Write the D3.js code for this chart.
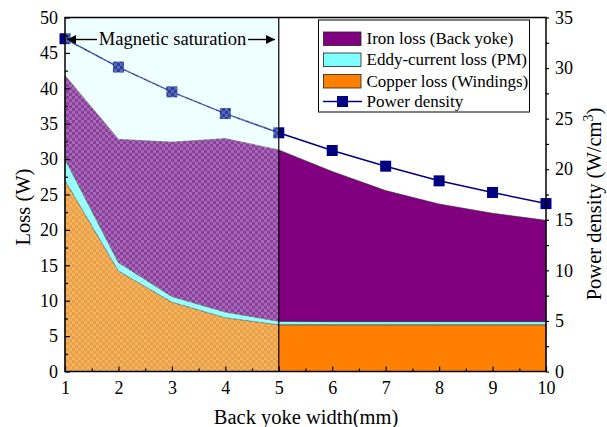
<!DOCTYPE html>
<html>
<head>
<meta charset="utf-8">
<script src="https://cdn.jsdelivr.net/npm/d3@7"></script>
<style>
  html, body { margin: 0; padding: 0; background: #fff; }
  svg, svg text { font-family: "Liberation Serif", "DejaVu Serif", "Times New Roman", serif; }
  svg { display: block; }
</style>
</head>
<body>
<svg id="chart" width="607" height="427"></svg>
<script>
// Back yoke width (mm)
const widths = [1, 2, 3, 4, 5, 6, 7, 8, 9, 10];
// Loss components (W), stacked bottom to top
const copperLoss = [27.0, 14.2, 9.8, 7.6, 6.6, 6.6, 6.6, 6.6, 6.6, 6.6];
const eddyLoss   = [3.0, 1.2, 0.8, 0.8, 0.5, 0.45, 0.45, 0.45, 0.45, 0.45];
const ironLoss   = [11.8, 17.4, 21.8, 24.5, 24.2, 21.2, 18.5, 16.6, 15.3, 14.3];
// Power density (W/cm^3), right axis
const powerDensity = [32.9, 30.1, 27.65, 25.5, 23.6, 21.85, 20.3, 18.85, 17.7, 16.6];

const lossTicks = [0, 5, 10, 15, 20, 25, 30, 35, 40, 45, 50];
const densityTicks = [0, 5, 10, 15, 20, 25, 30, 35];
const saturationEnd = 5;

const seriesNames = ["Copper loss (Windings)", "Eddy-current loss (PM)", "Iron loss (Back yoke)"];
const seriesColors = ["#ff8000", "#80ffff", "#800080"];

const serif = "'Liberation Serif', 'DejaVu Serif', 'Times New Roman', serif";

const svg = d3.select("#chart");
const pLeft = 65, pRight = 546, pTop = 17.5, pBottom = 371.5;

const x = d3.scaleLinear().domain([1, 10]).range([pLeft, pRight]);
const yL = d3.scaleLinear().domain([0, 50]).range([pBottom, pTop]);
const yR = d3.scaleLinear().domain([0, 35]).range([pBottom, pTop]);

// Stack the loss components
const rows = widths.map((w, i) => ({ w, c: copperLoss[i], e: eddyLoss[i], f: ironLoss[i] }));
const stack = d3.stack().keys(["c", "e", "f"])(rows);

const area = d3.area()
  .x(d => x(d.data.w))
  .y0(d => yL(d[0]))
  .y1(d => yL(d[1]));

// Dithered cyan tint for the saturation region
const defs = svg.append("defs");
const dither = defs.append("pattern")
  .attr("id", "dither").attr("width", 6).attr("height", 6)
  .attr("patternUnits", "userSpaceOnUse");
const tint = "rgb(205,255,255)";
[[0, 0, 0.24], [3, 0, 0.42], [0, 3, 0.42], [3, 3, 0.24]].forEach(([cx, cy, a]) => {
  dither.append("rect").attr("x", cx).attr("y", cy).attr("width", 3).attr("height", 3)
    .attr("fill", tint).attr("fill-opacity", a);
});

// Stacked areas
svg.append("g").selectAll("path")
  .data(stack)
  .join("path")
  .attr("d", area)
  .attr("fill", (d, i) => seriesColors[i])
  .attr("stroke", "#333")
  .attr("stroke-width", 0.6);

// Power density line and markers
const line = d3.line().x((d, i) => x(widths[i])).y(d => yR(d));
svg.append("path")
  .datum(powerDensity)
  .attr("d", line)
  .attr("fill", "none")
  .attr("stroke", "#000080")
  .attr("stroke-width", 1.5);

const ms = 11;
svg.append("g").selectAll("rect")
  .data(powerDensity)
  .join("rect")
  .attr("x", (d, i) => x(widths[i]) - ms / 2)
  .attr("y", d => yR(d) - ms / 2)
  .attr("width", ms).attr("height", ms)
  .attr("fill", "#000080");

// Magnetic saturation shading
svg.append("rect")
  .attr("x", x(1)).attr("y", pTop)
  .attr("width", x(saturationEnd) - x(1))
  .attr("height", pBottom - pTop)
  .attr("fill", "url(#dither)");
svg.append("line")
  .attr("x1", x(saturationEnd)).attr("x2", x(saturationEnd))
  .attr("y1", pTop).attr("y2", pBottom)
  .attr("stroke", "#000").attr("stroke-width", 1.2);

// Frame
svg.append("rect")
  .attr("x", pLeft).attr("y", pTop)
  .attr("width", pRight - pLeft).attr("height", pBottom - pTop)
  .attr("fill", "none").attr("stroke", "#000").attr("stroke-width", 1.5);

// Axes
const fontSize = 18;
const gx = svg.append("g").attr("transform", `translate(0,${pBottom})`);
gx.call(d3.axisBottom(x).tickValues(widths).tickSize(-5).tickPadding(10).tickFormat(d3.format("d")));
gx.append("g").call(d3.axisBottom(x).tickValues(d3.range(1.5, 10, 1)).tickSize(-3).tickFormat(""));

const gl = svg.append("g").attr("transform", `translate(${pLeft},0)`);
gl.call(d3.axisLeft(yL).tickValues(lossTicks).tickSize(-5).tickPadding(7).tickFormat(d3.format("d")));
gl.append("g").call(d3.axisLeft(yL).tickValues(d3.range(2.5, 50, 5)).tickSize(-3).tickFormat(""));

const gr = svg.append("g").attr("transform", `translate(${pRight},0)`);
gr.call(d3.axisRight(yR).tickValues(densityTicks).tickSize(3).tickPadding(6).tickFormat(d3.format("d")));
gr.append("g").call(d3.axisRight(yR).tickValues(d3.range(2.5, 35, 5)).tickSize(3).tickFormat(""));

svg.selectAll(".domain").remove();
svg.selectAll(".tick line").attr("stroke", "#000").attr("stroke-width", 1.2);
svg.selectAll(".tick text")
  .attr("font-family", serif)
  .attr("font-size", fontSize)
  .attr("fill", "#000");

// Axis titles
const titleSize = 20.5;
svg.append("text")
  .attr("x", 306).attr("y", 424)
  .attr("text-anchor", "middle").attr("font-size", titleSize).attr("font-family", serif)
  .text("Back yoke width(mm)");

svg.append("text")
  .attr("transform", "translate(30,207) rotate(-90)")
  .attr("text-anchor", "middle").attr("font-size", titleSize).attr("font-family", serif)
  .text("Loss (W)");

const rt = svg.append("text")
  .attr("transform", "translate(601,204) rotate(-90)")
  .attr("text-anchor", "middle").attr("font-size", titleSize).attr("font-family", serif);
rt.append("tspan").text("Power density (W/cm");
rt.append("tspan").attr("dy", -8).attr("font-size", 14).text("3");
rt.append("tspan").attr("dy", 8).text(")");

// Saturation annotation with arrows
const annY = 39.5;
defs.append("marker")
  .attr("id", "arrowhead").attr("viewBox", "0 0 10 10")
  .attr("refX", 10).attr("refY", 5)
  .attr("markerWidth", 11).attr("markerHeight", 9)
  .attr("markerUnits", "userSpaceOnUse")
  .attr("orient", "auto")
  .append("path").attr("d", "M0,0 L10,5 L0,10 Z").attr("fill", "#000");

svg.append("line")
  .attr("x1", 97).attr("x2", 67).attr("y1", annY).attr("y2", annY)
  .attr("stroke", "#000").attr("stroke-width", 1.4)
  .attr("marker-end", "url(#arrowhead)");
svg.append("line")
  .attr("x1", 248).attr("x2", 275).attr("y1", annY).attr("y2", annY)
  .attr("stroke", "#000").attr("stroke-width", 1.4)
  .attr("marker-end", "url(#arrowhead)");
svg.append("text")
  .attr("x", 172.5).attr("y", 45)
  .attr("text-anchor", "middle").attr("font-size", 18.5).attr("font-family", serif)
  .text("Magnetic saturation");

// Legend
const lg = svg.append("g");
lg.append("rect")
  .attr("x", 318.5).attr("y", 20).attr("width", 211).attr("height", 92)
  .attr("fill", "#fff").attr("stroke", "#000").attr("stroke-width", 1);

const legendItems = [
  { name: seriesNames[2], color: seriesColors[2] },
  { name: seriesNames[1], color: seriesColors[1] },
  { name: seriesNames[0], color: seriesColors[0] }
];
const rowY = [38.5, 59.5, 81];
legendItems.forEach((it, i) => {
  lg.append("rect")
    .attr("x", 323.5).attr("y", rowY[i] - 6.5).attr("width", 37.5).attr("height", 13.5)
    .attr("fill", it.color).attr("stroke", "#222").attr("stroke-width", 0.8);
  lg.append("text")
    .attr("x", 366.5).attr("y", rowY[i] + 5.5)
    .attr("font-size", 17).attr("font-family", serif).text(it.name);
});
lg.append("line")
  .attr("x1", 323).attr("x2", 362).attr("y1", 101.5).attr("y2", 101.5)
  .attr("stroke", "#000080").attr("stroke-width", 1.5);
lg.append("rect")
  .attr("x", 342.5 - ms / 2).attr("y", 101.5 - ms / 2).attr("width", ms).attr("height", ms)
  .attr("fill", "#000080");
lg.append("text")
  .attr("x", 366.5).attr("y", 107)
  .attr("font-size", 17).attr("font-family", serif).text("Power density");
</script>
</body>
</html>
